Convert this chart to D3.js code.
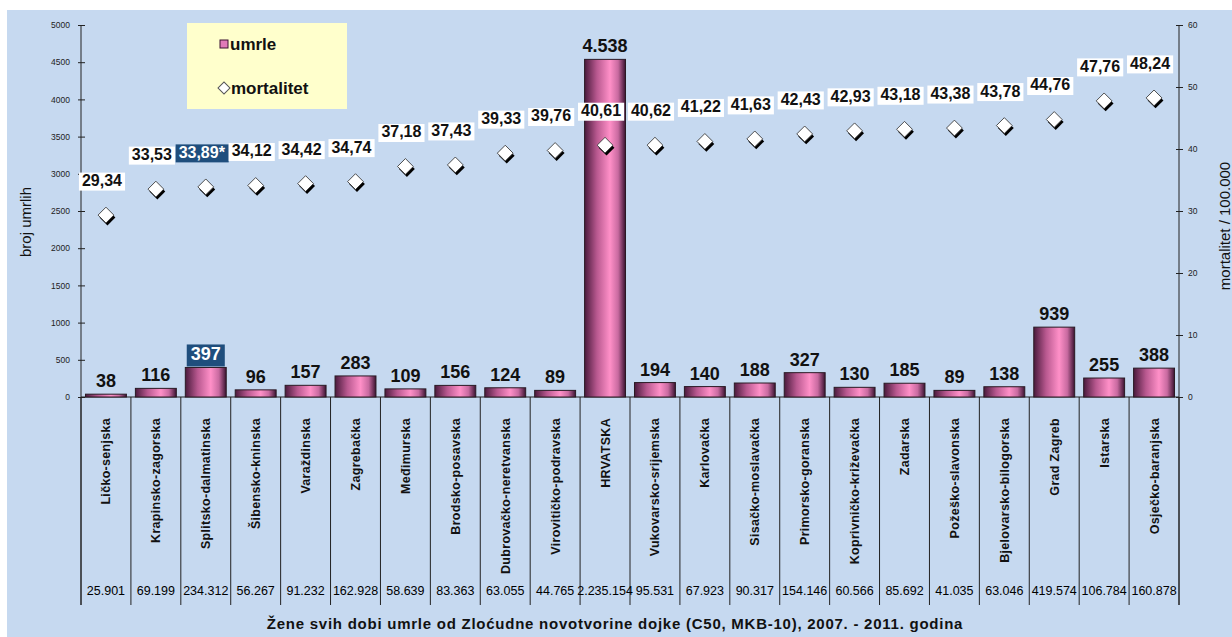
<!DOCTYPE html>
<meta charset="utf-8">
<script src="https://d3js.org/d3.v7.min.js"></script>
<style>
  body { margin: 0; background: #fff; }
  svg { display: block; font-family: "Liberation Sans", Arial, sans-serif; }
</style>
<svg id="chart" width="1232" height="637"></svg>
<script>

// counties (HRVATSKA = whole country)
var zupanije = ["Ličko-senjska", "Krapinsko-zagorska", "Splitsko-dalmatinska", "Šibensko-kninska",
  "Varaždinska", "Zagrebačka", "Međimurska", "Brodsko-posavska", "Dubrovačko-neretvanska",
  "Virovitičko-podravska", "HRVATSKA", "Vukovarsko-srijemska", "Karlovačka", "Sisačko-moslavačka",
  "Primorsko-goranska", "Koprivničko-križevačka", "Zadarska", "Požeško-slavonska",
  "Bjelovarsko-bilogorska", "Grad Zagreb", "Istarska", "Osječko-baranjska"];

// number of deaths
var umrle = [38, 116, 397, 96, 157, 283, 109, 156, 124, 89, 4538, 194, 140, 188, 327, 130, 185, 89, 138, 939, 255, 388];

// mortality per 100.000
var mortalitet = [29.34, 33.53, 33.89, 34.12, 34.42, 34.74, 37.18, 37.43, 39.33, 39.76, 40.61, 40.62,
  41.22, 41.63, 42.43, 42.93, 43.18, 43.38, 43.78, 44.76, 47.76, 48.24];

// female population
var stanovnistvo = [25901, 69199, 234312, 56267, 91232, 162928, 58639, 83363, 63055, 44765, 2235154,
  95531, 67923, 90317, 154146, 60566, 85692, 41035, 63046, 419574, 106784, 160878];

var leftTicks = [0, 500, 1000, 1500, 2000, 2500, 3000, 3500, 4000, 4500, 5000];
var rightTicks = [0, 10, 20, 30, 40, 50, 60];

var istaknuto = "Splitsko-dalmatinska";

var hr = d3.formatLocale({decimal: ",", thousands: ".", grouping: [3], currency: ["", " kn"]});
var fmtInt = hr.format(",d");
var fmtDec = hr.format(".2f");

var svg = d3.select("#chart");

var xLeft = 81, xRight = 1179, yTop = 25, yBase = 397, tableBottom = 605;

var data = zupanije.map(function(z, i) {
  return {name: z, umrle: umrle[i], mort: mortalitet[i], pop: stanovnistvo[i]};
});

// background
svg.append("rect").attr("x", 7).attr("y", 10).attr("width", 1225).attr("height", 627).attr("fill", "#c6d9f0");

var x = d3.scaleBand().domain(zupanije).range([xLeft, xRight]).paddingInner(0.18).paddingOuter(0.09);
var yL = d3.scaleLinear().domain([0, 5000]).range([yBase, yTop]);
var yR = d3.scaleLinear().domain([0, 60]).range([yBase, yTop]);

// bar gradient
var defs = svg.append("defs");
var grad = defs.append("linearGradient").attr("id", "barGrad").attr("x1", "0%").attr("x2", "100%");
grad.append("stop").attr("offset", "0%").attr("stop-color", "#4a1a3c");
grad.append("stop").attr("offset", "30%").attr("stop-color", "#b8588f");
grad.append("stop").attr("offset", "62%").attr("stop-color", "#ff90c8");
grad.append("stop").attr("offset", "82%").attr("stop-color", "#c86aa0");
grad.append("stop").attr("offset", "100%").attr("stop-color", "#3a1230");

// table lines below the axis
var bounds = zupanije.map(function(z) { return x(z) - x.step() * x.paddingInner() / 2; });
bounds.push(xRight);
svg.append("g").selectAll("line").data(bounds).enter().append("line")
  .attr("x1", function(d) { return d; }).attr("x2", function(d) { return d; })
  .attr("y1", yBase).attr("y2", tableBottom)
  .attr("stroke", "#222").attr("stroke-width", 1);

// axes
var axL = svg.append("g").attr("transform", "translate(" + xLeft + ",0)")
  .call(d3.axisLeft(yL).tickValues(leftTicks).tickFormat(d3.format("d")).tickSize(4).tickPadding(7));
var axR = svg.append("g").attr("transform", "translate(" + xRight + ",0)")
  .call(d3.axisRight(yR).tickValues(rightTicks).tickFormat(d3.format("d")).tickSize(4).tickPadding(5));
[axL, axR].forEach(function(ax) {
  ax.select(".domain").remove();
  ax.selectAll(".tick line").attr("x1", -3).attr("x2", 4).attr("stroke", "#222");
  ax.selectAll(".tick text").attr("font-size", 8.5).attr("fill", "#222")
    .attr("font-family", "'Liberation Sans Narrow', 'Liberation Sans', Arial, sans-serif");
});
svg.append("line").attr("x1", xLeft).attr("x2", xLeft).attr("y1", yTop).attr("y2", tableBottom).attr("stroke", "#222");
svg.append("line").attr("x1", xRight).attr("x2", xRight).attr("y1", yTop).attr("y2", tableBottom).attr("stroke", "#222");
svg.append("line").attr("x1", xLeft).attr("x2", xRight).attr("y1", yBase).attr("y2", yBase).attr("stroke", "#222");

// bars
svg.append("g").selectAll("rect").data(data).enter().append("rect")
  .attr("x", function(d) { return x(d.name); })
  .attr("width", x.bandwidth())
  .attr("y", function(d) { return yL(d.umrle); })
  .attr("height", function(d) { return yBase - yL(d.umrle); })
  .attr("fill", "url(#barGrad)")
  .attr("stroke", "#2a1a24").attr("stroke-width", 1);

// label, with an optional box behind it (dark = null: no box)
function boxLabel(g, txt, cx, baseline, size, dark, pad) {
  var t = g.append("text").attr("x", cx).attr("y", baseline).attr("text-anchor", "middle")
    .attr("font-size", size).attr("font-weight", "bold").attr("fill", dark ? "#fff" : "#111").text(txt);
  if (dark !== null) {
    var b = t.node().getBBox();
    g.insert("rect", "text").attr("x", b.x - pad).attr("y", b.y + 2 - pad / 2)
      .attr("width", b.width + 2 * pad).attr("height", b.height - 2 + pad)
      .attr("fill", dark ? "#1f4e7d" : "#fff");
  }
}

// bar values
data.forEach(function(d) {
  var g = svg.append("g");
  var hi = d.name === istaknuto;
  boxLabel(g, fmtInt(d.umrle), x(d.name) + x.bandwidth() / 2, yL(d.umrle) - 7, 18, hi ? true : null, 4);
});

// mortality markers
var diamond = d3.symbol().type(d3.symbolSquare).size(125);
var mk = svg.append("g");
data.forEach(function(d) {
  var cx = x(d.name) + x.bandwidth() / 2, cy = yR(d.mort);
  mk.append("path").attr("d", diamond())
    .attr("transform", "translate(" + (cx + 1.5) + "," + (cy + 2.5) + ") rotate(45)").attr("fill", "#000");
  mk.append("path").attr("d", diamond())
    .attr("transform", "translate(" + cx + "," + cy + ") rotate(45)")
    .attr("fill", "#fff").attr("stroke", "#333").attr("stroke-width", 0.8);
});

// mortality values
data.forEach(function(d) {
  var g = svg.append("g");
  var hi = d.name === istaknuto;
  var cx = x(d.name) + x.bandwidth() / 2 - 4;
  boxLabel(g, fmtDec(d.mort) + (hi ? "*" : ""), cx, yR(d.mort) - 29, 16, hi, 3);
});

// category names
svg.append("g").selectAll("text").data(data).enter().append("text")
  .attr("transform", function(d) { return "translate(" + (x(d.name) + x.bandwidth() / 2 + 4.5) + ",418) rotate(-90)"; })
  .attr("text-anchor", "end").attr("font-size", 12.5).attr("letter-spacing", 0.3)
  .attr("font-weight", "bold").attr("fill", "#111")
  .text(function(d) { return d.name; });

// population row
svg.append("g").selectAll("text").data(data).enter().append("text")
  .attr("x", function(d) { return x(d.name) + x.bandwidth() / 2; })
  .attr("y", 595).attr("text-anchor", "middle").attr("font-size", 12.5).attr("fill", "#000")
  .text(function(d) { return fmtInt(d.pop); });

// axis titles
svg.append("text").attr("transform", "translate(31,222) rotate(-90)").attr("text-anchor", "middle")
  .attr("font-size", 15).attr("fill", "#111").text("broj umrlih");
svg.append("text").attr("transform", "translate(1230,226) rotate(-90)").attr("text-anchor", "middle")
  .attr("font-size", 15).attr("fill", "#111").text("mortalitet / 100.000");

// bottom title
svg.append("text").attr("x", 615).attr("y", 629).attr("text-anchor", "middle")
  .attr("font-size", 15).attr("letter-spacing", 0.75).attr("font-weight", "bold").attr("fill", "#111")
  .text("Žene svih dobi umrle od Zloćudne novotvorine dojke (C50, MKB-10), 2007. - 2011. godina");

// legend
var lg = svg.append("g");
lg.append("rect").attr("x", 187).attr("y", 23).attr("width", 160).attr("height", 86).attr("fill", "#ffffcc");
lg.append("rect").attr("x", 220).attr("y", 40).attr("width", 8).attr("height", 8)
  .attr("fill", "#e07ab8").attr("stroke", "#3a1230");
lg.append("text").attr("x", 230).attr("y", 50).attr("font-size", 17).attr("font-weight", "bold").attr("fill", "#111").text("umrle");
lg.append("path").attr("d", d3.symbol().type(d3.symbolSquare).size(72)())
  .attr("transform", "translate(224,88) rotate(45)").attr("fill", "#fff").attr("stroke", "#555");
lg.append("text").attr("x", 231).attr("y", 94).attr("font-size", 17).attr("font-weight", "bold").attr("fill", "#111").text("mortalitet");

</script>
